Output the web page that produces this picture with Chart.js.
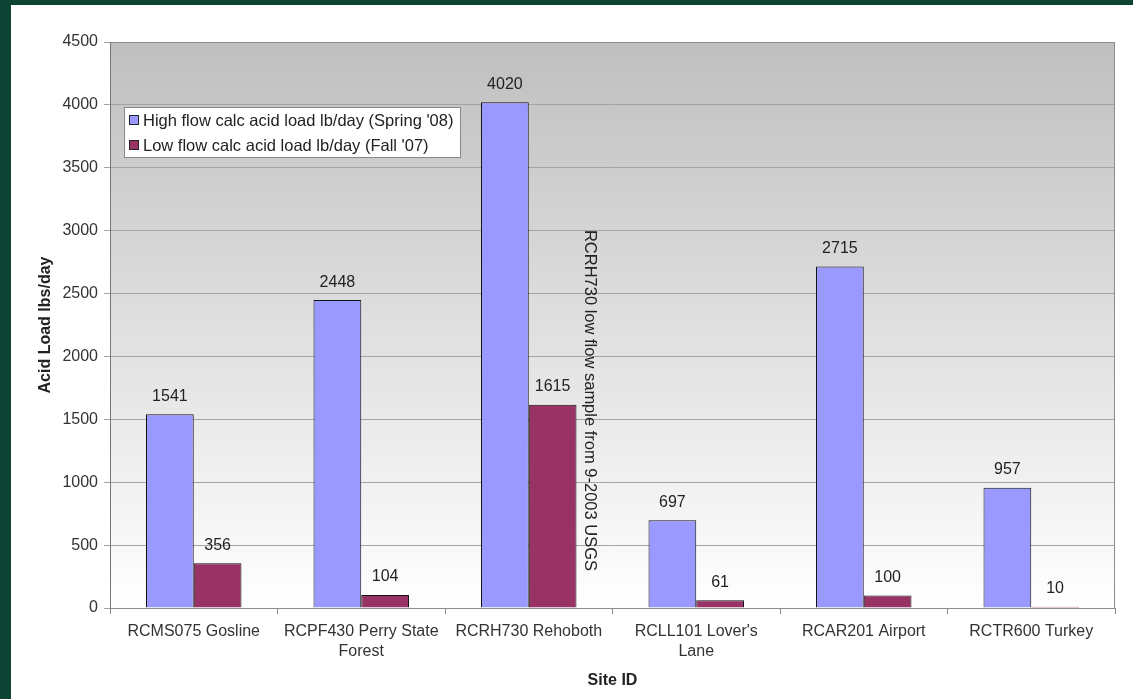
<!DOCTYPE html>
<html><head><meta charset="utf-8">
<script src="https://cdn.jsdelivr.net/npm/chart.js@4.4.1/dist/chart.umd.min.js"></script>
<style>
html,body{margin:0;padding:0;background:#0e4433;width:1133px;height:699px;overflow:hidden}
#wrap{position:absolute;left:11px;top:5px;width:1122px;height:694px;background:#fff}
</style></head><body>
<div id="wrap"><canvas id="c" width="1122" height="694"></canvas></div>
<script>
const categories = [["RCMS075 Gosline"],["RCPF430 Perry State","Forest"],["RCRH730 Rehoboth"],["RCLL101 Lover's","Lane"],["RCAR201 Airport"],["RCTR600 Turkey"]];
const highFlow = [1541, 2448, 4020, 697, 2715, 957];
const lowFlow = [356, 104, 1615, 61, 100, 10];
const seriesNames = ["High flow calc acid load lb/day (Spring '08)", "Low flow calc acid load lb/day (Fall '07)"];
const yTicks = [0,500,1000,1500,2000,2500,3000,3500,4000,4500];
const note = "RCRH730 low flow sample from 9-2003 USGS";
const noteCategory = 2;
const noteValue = 1650;

const FONT = "'Liberation Sans', Arial, sans-serif";

const bgPlugin = {
  id:'bg',
  beforeDraw(chart){
    const {ctx, chartArea:a} = chart;
    const g = ctx.createLinearGradient(0,a.top,0,a.bottom);
    g.addColorStop(0,'#bfbfbf');
    g.addColorStop(1,'#ffffff');
    ctx.save();
    ctx.fillStyle = g;
    ctx.fillRect(a.left,a.top,a.right-a.left,a.bottom-a.top);
    ctx.restore();
  },
  afterDraw(chart){
    const {ctx, chartArea:a} = chart;
    ctx.save();
    ctx.strokeStyle = '#8c8c8c';
    ctx.lineWidth = 1;
    ctx.strokeRect(a.left+0.5,a.top+0.5,a.right-a.left-1,a.bottom-a.top);
    ctx.strokeStyle = '#777';
    ctx.beginPath(); ctx.moveTo(a.left+0.5,a.top); ctx.lineTo(a.left+0.5,a.bottom+1); ctx.stroke();
    // data labels
    ctx.fillStyle = '#222';
    ctx.font = '16px ' + FONT;
    ctx.textAlign = 'center';
    ctx.textBaseline = 'bottom';
    chart.data.datasets.forEach((ds,di)=>{
      chart.getDatasetMeta(di).data.forEach((bar,i)=>{
        ctx.fillText(String(ds.data[i]), bar.x, bar.y - 10);
      });
    });
    // note
    const xs = chart.scales.x, ys = chart.scales.y;
    const cw = (a.right - a.left)/categories.length;
    const nx = xs.getPixelForValue(noteCategory) + cw*0.365;
    const ny = ys.getPixelForValue(noteValue);
    ctx.save();
    ctx.translate(nx, ny);
    ctx.rotate(Math.PI/2);
    ctx.textAlign = 'center';
    ctx.textBaseline = 'middle';
    ctx.fillStyle = '#222';
    ctx.font = '16.5px ' + FONT;
    ctx.fillText(note, 0, 0);
    ctx.restore();
    // legend
    const lx = a.left + 14, ly = a.top + 65, lw = 336, lh = 50;
    ctx.fillStyle = '#fff';
    ctx.fillRect(lx, ly, lw, lh);
    ctx.strokeStyle = '#888';
    ctx.strokeRect(lx+0.5, ly+0.5, lw, lh);
    ctx.font = '16.5px ' + FONT;
    ctx.textAlign = 'left';
    ctx.textBaseline = 'middle';
    const cols = ['#9999ff','#993366'];
    seriesNames.forEach((n,i)=>{
      const cy = ly + 13 + i*25;
      ctx.fillStyle = cols[i];
      ctx.fillRect(lx+5, cy-5, 10, 10);
      ctx.strokeStyle = '#222';
      ctx.strokeRect(lx+5.5, cy-4.5, 9, 9);
      ctx.fillStyle = '#222';
      ctx.fillText(n, lx+19, cy+1);
    });
    ctx.restore();
  }
};

new Chart(document.getElementById('c'), {
  type:'bar',
  data:{
    labels: categories,
    datasets:[
      {label:seriesNames[0], data:highFlow, backgroundColor:'#9999ff', borderColor:'#111', borderWidth:1, borderSkipped:'bottom'},
      {label:seriesNames[1], data:lowFlow, backgroundColor:'#993366', borderColor:'#111', borderWidth:1, borderSkipped:'bottom'}
    ]
  },
  options:{
    responsive:false,
    animation:false,
    layout:{padding:{top:37,right:18,left:0,bottom:0}},
    datasets:{bar:{barPercentage:1, categoryPercentage:0.57}},
    plugins:{legend:{display:false}, tooltip:{enabled:false}},
    scales:{
      x:{
        grid:{drawOnChartArea:false, drawTicks:true, tickLength:6, color:'#888', offset:true},
        border:{display:false},
        ticks:{color:'#333', font:{family:FONT, size:16, lineHeight:1.25}, maxRotation:0, autoSkip:false, padding:8},
        title:{display:true, text:'Site ID', color:'#222', font:{family:FONT, size:16, weight:'bold'}, padding:{top:4, bottom:9}},
        afterFit(s){ s.height = 91; }
      },
      y:{
        min:0, max:4500,
        afterBuildTicks(s){ s.ticks = yTicks.map(v=>({value:v})); },
        grid:{color:'#a3a3a3', tickLength:6, drawTicks:true},
        border:{display:false},
        ticks:{color:'#333', font:{family:FONT, size:16}, padding:6, callback:(v)=>String(v)},
        title:{display:true, text:'Acid Load lbs/day', color:'#222', font:{family:FONT, size:16, weight:'bold'}, padding:{top:25, bottom:0}},
        afterFit(s){ s.width = 99; }
      }
    }
  },
  plugins:[bgPlugin]
});
</script>
</body></html>
